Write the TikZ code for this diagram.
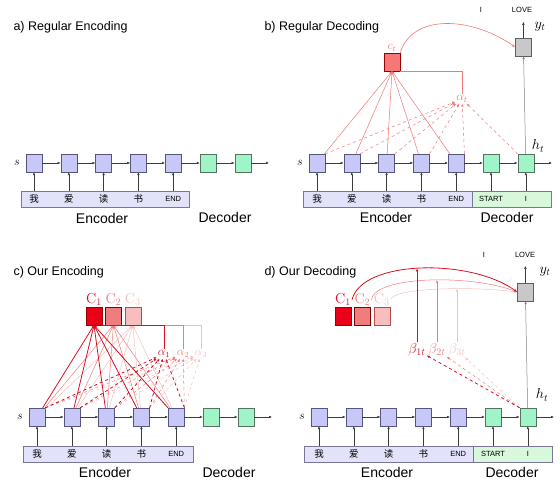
\documentclass[tikz,border=0pt]{standalone}
\usepackage[no-math]{fontspec}
\setmainfont{Liberation Sans}
\newfontfamily\cjk{Noto Sans CJK SC}
\usetikzlibrary{positioning,arrows.meta}

\definecolor{encfill}{RGB}{200,200,248}
\definecolor{encline}{RGB}{85,85,125}
\definecolor{decfill}{RGB}{160,245,200}
\definecolor{decline}{RGB}{85,115,95}
\definecolor{outfill}{RGB}{200,200,200}
\definecolor{outline}{RGB}{95,95,95}
\definecolor{stripfill}{RGB}{226,226,250}
\definecolor{gstripfill}{RGB}{215,248,218}
\definecolor{stripline}{RGB}{120,120,150}
\definecolor{arrowgray}{RGB}{60,60,60}
\definecolor{ctfill}{RGB}{245,120,120}
\definecolor{attred}{RGB}{240,120,120}
\definecolor{lcone}{RGB}{215,15,35}
\definecolor{lctwo}{RGB}{240,125,125}
\definecolor{lcthree}{RGB}{248,190,190}
\definecolor{cone}{RGB}{235,0,25}

\tikzset{
  enc/.style={draw=encline, fill=encfill, minimum width=16pt, minimum height=18pt, inner sep=0pt},
  dec/.style={enc, draw=decline, fill=decfill},
  outbox/.style={enc, draw=outline, fill=outfill},
  strip/.style={draw=stripline, fill=stripfill, minimum height=16pt, inner sep=0pt},
  gstrip/.style={strip, fill=gstripfill},
  word/.style={font=\cjk\fontsize{9.5}{10}\selectfont},
  tok/.style={font=\fontsize{7.5}{8}\selectfont},
  ttl/.style={anchor=west, font=\fontsize{12.5}{14}\selectfont},
  part/.style={font=\fontsize{14}{16}\selectfont},
  mlab/.style={font=\fontsize{14.4}{16}\selectfont, inner sep=1pt},
  slab/.style={font=\fontsize{12}{14}\selectfont, inner sep=1pt},
  link/.style={->, draw=arrowgray, line width=0.5pt},
}

\begin{document}
\begin{tikzpicture}[x=1pt, y=1pt, node distance=18.4pt, >={Latex[length=3pt,width=2.6pt]}]
\useasboundingbox (0,0) rectangle (560,488);

% titles
\node[ttl] (ta) at (10,461) {a) Regular Encoding};
\node[ttl] (tb) at (261,461) {b) Regular Decoding};
\node[ttl] (tc) at (10,216) {c) Our Encoding};
\node[ttl] (td) at (261,216) {d) Our Decoding};

% word strips
\node[strip, minimum width=168pt] (sa) at (105,289) {};
\node[strip, minimum width=169pt] (sb) at (387.5,289) {};
\node[gstrip, minimum width=79pt] (gb) at (511.5,289) {};
\node[strip, minimum width=170pt] (sc) at (108,34) {};
\node[strip, minimum width=169pt] (sd) at (388.5,34) {};
\node[gstrip, minimum width=79pt] (gd) at (512.5,34) {};

% recurrent rows
\foreach \p/\x/\y in {a/34/325, b/317/325, c/37/71, d/319/71} {
  \node[enc] (\p1) at (\x,\y) {};
  \node[enc, right=of \p1] (\p2) {};
  \node[enc, right=of \p2] (\p3) {};
  \node[enc, right=of \p3] (\p4) {};
  \node[enc, right=of \p4] (\p5) {};
  \node[dec, right=of \p5] (\p6) {};
  \node[dec, right=of \p6] (\p7) {};
  \coordinate[right=18pt of \p7] (\p e);
  \node[left=5pt of \p1, slab] (\p s) {$s$};
  \foreach \i/\k in {1/2,2/3,3/4,4/5,5/6,6/7} \draw[link] (\p\i) -- (\p\k);
  \draw[link] (\p7) -- (\p e);
  \node[word] (\p w1) at (\p1 |- s\p) {我};
  \node[word] (\p w2) at (\p2 |- s\p) {爱};
  \node[word] (\p w3) at (\p3 |- s\p) {读};
  \node[word] (\p w4) at (\p4 |- s\p) {书};
  \node[tok] (\p w5) at (\p5 |- s\p) {END};
  \foreach \i in {1,...,5} \draw[link] (\p\i |- s\p.north) -- (\p\i);
}
\foreach \p in {b,d} {
  \node[tok] (\p w6) at (\p6 |- g\p) {START};
  \node[tok] (\p w7) at (\p7 |- g\p) {I};
  \draw[link] (\p6 |- g\p.north) -- (\p6);
  \draw[link] (\p7 |- g\p.north) -- (\p7);
}

% encoder / decoder captions
\node[part] at (102,270) {Encoder};
\node[part] at (225,271) {Decoder};
\node[part] at (386,271) {Encoder};
\node[part] at (507,271) {Decoder};
\node[part] at (105,16) {Encoder};
\node[part] at (229,16) {Decoder};
\node[part] at (387,16) {Encoder};
\node[part] at (512,16) {Decoder};

% b) regular decoding
\node[outbox] (ob) at (523.4,441) {};
\coordinate[above=16pt of ob] (obt);
\draw[->, draw=gray, line width=0.5pt] (b7) -- (ob);
\draw[link] (ob) -- (obt);
\node[mlab] at (540,461) {$y_t$};
\node[mlab] at (538,342) {$h_t$};
\node[tok] at (481,478) {I};
\node[tok] at (522,478) {LOVE};
\node[enc, draw=red!60!black, fill=ctfill] (ct) at (392,426) {};
\node[above=0pt of ct, text=attred, slab] {$c_t$};
\node[text=attred, slab] (at) at (462,389) {$\alpha_t$};
\draw[attred, line width=0.5pt] (at.north) |- (ct.south east);
\foreach \i in {1,...,5} {
  \draw[->, attred, line width=0.5pt] (b\i) -- (ct.south);
  \draw[->, attred, dashed, line width=0.5pt] (b\i.north east) -- (at);
}
\draw[->, attred, dashed, line width=0.5pt] (b7.north west) -- (at);
\draw[->, attred, line width=0.6pt] (ct.north east) .. controls (412,474) and (470,472) .. (ob.west);

% c) our encoding
\node[enc, draw=red!60!black, fill=cone] (cc1) at (94,172) {};
\node[enc, draw=red!50!black, fill=lctwo, right=3pt of cc1] (cc2) {};
\node[enc, draw=red!40!gray, fill=lcthree, right=3pt of cc2] (cc3) {};
\node[slab] (al1) at (164,134) {\textcolor{lcone}{$\alpha_1$}};
\node[slab] (al2) at (183,134) {\textcolor{lctwo}{$\alpha_2$}};
\node[slab] (al3) at (201,134) {\textcolor{lcthree}{$\alpha_3$}};
\foreach \k/\col/\w in {3/lcthree/0.5pt, 2/lctwo/0.5pt, 1/lcone/0.8pt} {
  \node[above=0pt of cc\k, text=\col, mlab] (kc\k) {$\mathrm{C}_\k$};
  \draw[\col, line width=\w] (al\k.north) |- (cc\k.south east);
  \foreach \i in {1,...,5} {
    \draw[->, \col, line width=\w] (c\i) -- (cc\k.south);
    \draw[->, \col, dashed, line width=\w] (c\i.north east) -- (al\k);
  }
}

% d) our decoding
\node[outbox] (od) at (525.4,196) {};
\coordinate[above=17pt of od] (odt);
\draw[->, draw=gray, line width=0.5pt] (d7) -- (od);
\draw[link] (od) -- (odt);
\node[mlab] at (545,216) {$y_t$};
\node[mlab] at (542,93) {$h_t$};
\node[tok] at (484,233) {I};
\node[tok] at (525,233) {LOVE};
\node[enc, draw=red!60!black, fill=cone] (dc1) at (343,172) {};
\node[enc, draw=red!50!black, fill=lctwo, right=3pt of dc1] (dc2) {};
\node[enc, draw=red!40!gray, fill=lcthree, right=3pt of dc2] (dc3) {};
\node[mlab] (be1) at (417,138) {\textcolor{lcone}{$\beta_{1t}$}};
\node[mlab] (be2) at (437,138) {\textcolor{lctwo}{$\beta_{2t}$}};
\node[mlab] (be3) at (457,138) {\textcolor{lcthree}{$\beta_{3t}$}};
\foreach \k/\col in {3/lcthree, 2/lctwo, 1/lcone}
  \node[above=0pt of dc\k, text=\col, mlab] (kd\k) {$\mathrm{C}_\k$};
\draw[->, lcthree, line width=0.5pt] (kd3.east) .. controls (392,200) and (470,202) .. (od.west) coordinate[pos=0.63] (p3);
\draw[->, lctwo, line width=0.5pt] (kd2.east) .. controls (375,212) and (470,214) .. (od.west) coordinate[pos=0.55] (p2);
\draw[->, lcone, line width=0.8pt] (kd1.east) .. controls (362,228) and (470,230) .. (od.west) coordinate[pos=0.48] (p1);
\draw[->, lcthree, line width=0.5pt] (be3) -- (be3 |- p3);
\draw[->, lctwo, line width=0.5pt] (be2) -- (be2 |- p2);
\draw[->, lcone, line width=0.8pt] (be1) -- (be1 |- p1);
\draw[->, lcthree, dashed, line width=0.5pt] (d7.north west) -- (be3);
\draw[->, lctwo, dashed, line width=0.5pt] (d7.north west) -- (be2);
\draw[->, lcone, dashed, line width=0.8pt] (d7.north west) -- (be1);
\end{tikzpicture}
\end{document}
